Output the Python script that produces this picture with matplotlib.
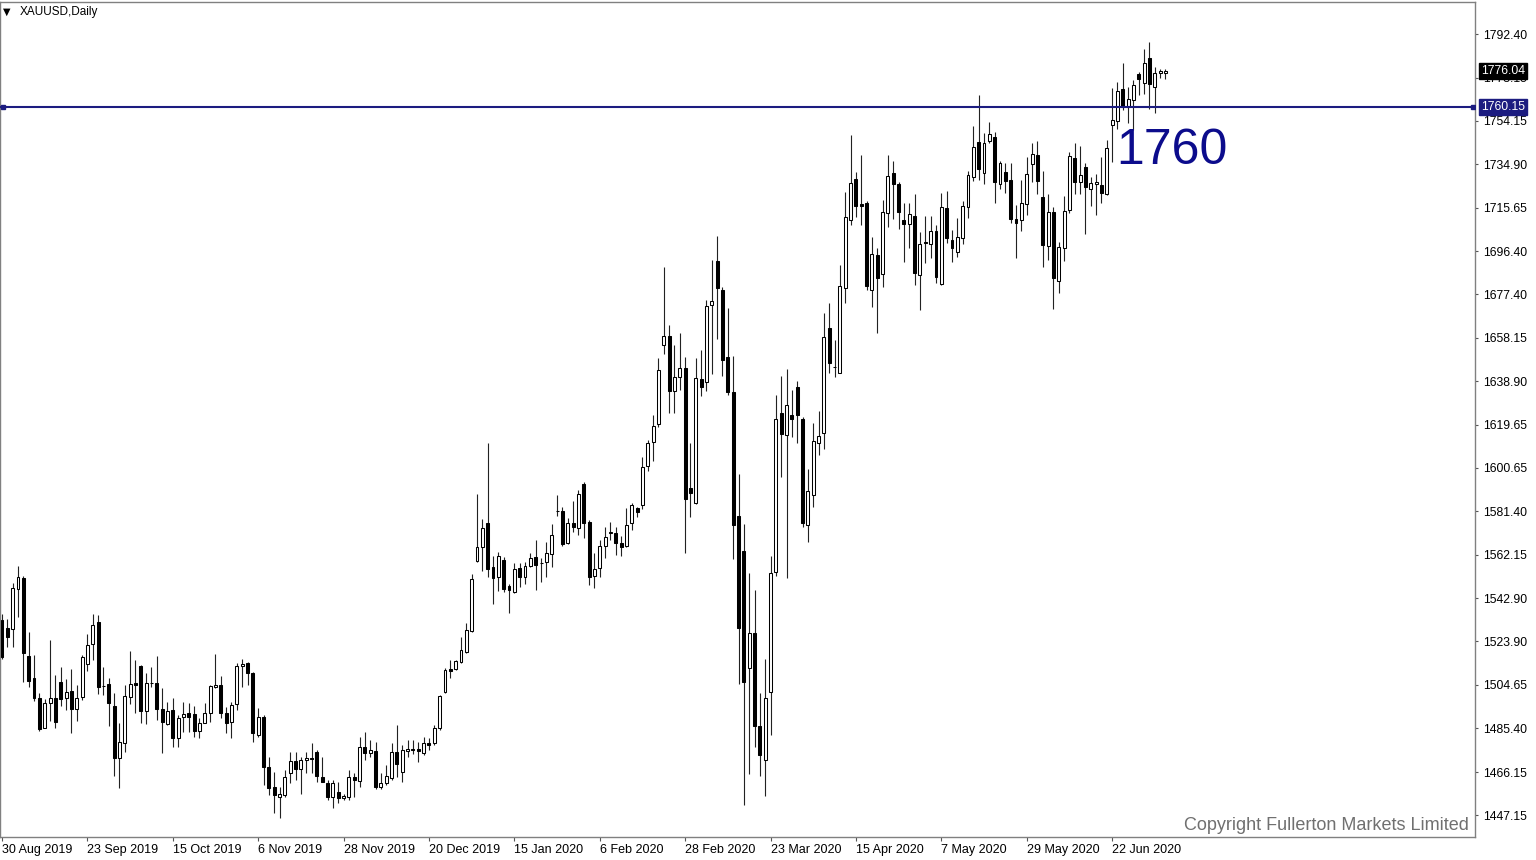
import matplotlib
matplotlib.use('Agg')
import matplotlib.pyplot as plt
import matplotlib.transforms as mtransforms
import numpy as np

plt.rcParams['font.family'] = ['Liberation Sans', 'DejaVu Sans']

# daily XAUUSD candles, 30 Aug 2019 .. early Jul 2020
opens = [
    1533.4, 1529.7, 1529.4, 1547.1, 1552.1, 1517.4, 1507.9, 1499.0, 1485.8, 1496.5,
    1498.7, 1505.9, 1498.7, 1502.0, 1494.0, 1499.5, 1513.8, 1522.6, 1532.3, 1504.3,
    1504.9, 1495.3, 1472.2, 1479.1, 1499.2, 1505.5, 1513.2, 1493.3, 1505.4, 1505.4,
    1493.9, 1487.2, 1493.6, 1481.0, 1490.6, 1492.4, 1491.8, 1484.4, 1488.0, 1492.1,
    1503.9, 1504.6, 1492.4, 1488.4, 1496.2, 1513.0, 1514.2, 1509.8, 1482.5, 1490.3,
    1468.5, 1459.7, 1455.3, 1456.0, 1465.6, 1471.2, 1467.3, 1471.5, 1472.2, 1475.1,
    1464.1, 1461.1, 1455.0, 1457.5, 1454.5, 1455.2, 1464.1, 1462.3, 1477.4, 1474.7,
    1475.6, 1459.4, 1461.4, 1463.4, 1475.1, 1466.3, 1475.6, 1476.2, 1476.2, 1474.7,
    1479.1, 1478.8, 1485.5, 1501.4, 1511.5, 1511.5, 1514.6, 1519.3, 1528.5, 1559.6,
    1565.5, 1576.4, 1556.9, 1552.2, 1559.9, 1548.4, 1545.9, 1556.2, 1552.5, 1557.2,
    1561.0, 1558.7, 1558.8, 1562.5, 1581.4, 1581.5, 1567.2, 1576.4, 1573.9, 1593.5,
    1576.8, 1552.8, 1556.2, 1566.1, 1571.9, 1572.0, 1567.5, 1566.1, 1576.1, 1582.7,
    1584.2, 1601.4, 1612.2, 1620.0, 1654.9, 1658.9, 1634.7, 1640.9, 1644.6, 1591.6,
    1585.1, 1640.0, 1638.4, 1672.7, 1691.9, 1679.3, 1649.8, 1634.1, 1579.5, 1563.8,
    1512.0, 1527.8, 1486.3, 1471.6, 1501.4, 1554.5, 1624.8, 1615.0, 1624.0, 1636.5,
    1622.0, 1575.4, 1588.6, 1611.5, 1616.2, 1662.3, 1645.1, 1642.7, 1680.0, 1710.2,
    1728.2, 1717.2, 1717.8, 1679.2, 1694.7, 1686.3, 1713.4, 1730.8, 1726.1, 1710.2,
    1708.4, 1711.9, 1685.9, 1700.6, 1699.6, 1705.5, 1681.9, 1715.3, 1701.3, 1696.2,
    1702.1, 1716.1, 1729.0, 1744.8, 1730.8, 1745.2, 1747.0, 1726.1, 1731.5, 1727.9,
    1710.5, 1710.2, 1717.2, 1734.9, 1738.9, 1720.2, 1698.7, 1713.9, 1683.4, 1697.6,
    1714.6, 1737.4, 1727.1, 1733.5, 1723.7, 1726.1, 1725.6, 1721.7, 1752.2, 1754.1,
    1767.9, 1760.0, 1763.2, 1774.7, 1770.6, 1781.6, 1769.1, 1775.0, 1775.3,
]
highs = [
    1536.0, 1533.8, 1549.6, 1557.2, 1552.8, 1527.9, 1517.9, 1501.2, 1498.4, 1524.5,
    1509.0, 1512.4, 1507.3, 1511.7, 1504.6, 1517.9, 1527.0, 1535.9, 1535.6, 1512.4,
    1507.9, 1500.9, 1487.7, 1504.6, 1519.7, 1515.7, 1513.5, 1509.8, 1512.4, 1517.4,
    1503.1, 1497.3, 1498.7, 1491.4, 1497.3, 1496.5, 1495.3, 1489.9, 1496.5, 1504.6,
    1518.3, 1508.6, 1495.0, 1497.3, 1514.2, 1516.0, 1514.9, 1510.2, 1494.3, 1491.4,
    1472.9, 1466.3, 1459.7, 1467.0, 1475.1, 1475.2, 1472.9, 1475.1, 1478.8, 1475.9,
    1472.9, 1462.6, 1462.6, 1461.9, 1456.4, 1467.0, 1465.6, 1481.8, 1484.0, 1480.3,
    1479.6, 1465.6, 1469.2, 1478.8, 1486.9, 1478.1, 1480.3, 1480.3, 1479.6, 1481.8,
    1481.0, 1486.9, 1500.2, 1512.0, 1515.7, 1515.7, 1525.7, 1531.9, 1553.7, 1588.9,
    1577.8, 1611.4, 1561.6, 1563.6, 1561.3, 1549.3, 1558.4, 1558.4, 1559.1, 1562.8,
    1568.7, 1560.6, 1568.0, 1575.8, 1588.6, 1583.1, 1578.3, 1586.1, 1590.8, 1594.5,
    1577.6, 1562.8, 1568.7, 1574.6, 1576.8, 1574.6, 1570.5, 1582.7, 1585.2, 1583.2,
    1605.3, 1612.9, 1624.0, 1649.0, 1689.5, 1663.8, 1654.9, 1660.4, 1649.5, 1611.5,
    1649.3, 1652.6, 1675.0, 1692.4, 1703.3, 1680.4, 1671.4, 1650.2, 1597.8, 1575.8,
    1554.0, 1546.8, 1501.0, 1516.1, 1561.5, 1633.0, 1641.2, 1644.4, 1635.1, 1638.8,
    1622.9, 1600.0, 1620.3, 1625.9, 1669.2, 1673.3, 1657.1, 1690.3, 1722.7, 1747.8,
    1731.6, 1739.0, 1718.7, 1702.8, 1697.7, 1719.0, 1739.0, 1736.4, 1727.1, 1717.5,
    1717.5, 1721.7, 1705.0, 1711.9, 1711.9, 1708.0, 1721.9, 1723.1, 1705.7, 1710.9,
    1718.7, 1732.0, 1751.7, 1765.4, 1748.5, 1753.6, 1749.2, 1736.4, 1735.5, 1735.5,
    1716.8, 1727.9, 1738.2, 1744.4, 1745.2, 1732.0, 1721.7, 1715.8, 1700.6, 1720.8,
    1740.4, 1744.4, 1742.9, 1735.5, 1729.0, 1730.5, 1737.9, 1745.5, 1768.4, 1771.3,
    1779.4, 1768.8, 1772.1, 1775.8, 1785.6, 1789.0, 1777.7, 1776.8, 1776.8,
]
lows = [
    1516.0, 1521.6, 1521.6, 1534.8, 1506.1, 1503.9, 1497.7, 1484.4, 1485.5, 1488.9,
    1485.8, 1495.5, 1493.6, 1483.3, 1488.9, 1498.0, 1510.8, 1515.7, 1500.6, 1500.2,
    1486.6, 1464.5, 1459.2, 1475.1, 1496.1, 1492.1, 1488.0, 1487.2, 1503.9, 1489.1,
    1474.4, 1486.9, 1477.4, 1477.1, 1484.0, 1484.0, 1481.5, 1481.0, 1487.7, 1488.4,
    1503.1, 1489.9, 1483.5, 1481.0, 1493.6, 1503.9, 1504.6, 1479.6, 1481.8, 1460.4,
    1456.0, 1447.9, 1445.7, 1455.3, 1461.1, 1462.6, 1456.4, 1465.6, 1465.6, 1461.9,
    1461.6, 1453.8, 1450.1, 1452.3, 1453.8, 1453.8, 1455.2, 1459.7, 1471.5, 1472.9,
    1458.5, 1458.5, 1460.4, 1462.6, 1464.1, 1461.9, 1472.9, 1474.1, 1470.7, 1473.7,
    1475.9, 1478.1, 1484.7, 1501.0, 1507.6, 1511.2, 1514.2, 1518.9, 1528.2, 1558.8,
    1555.1, 1552.5, 1540.4, 1546.3, 1545.9, 1536.3, 1545.4, 1548.1, 1549.3, 1556.6,
    1546.6, 1550.3, 1552.2, 1556.6, 1579.3, 1566.0, 1566.9, 1572.4, 1570.9, 1569.5,
    1548.8, 1547.4, 1552.5, 1560.6, 1568.7, 1562.1, 1561.6, 1565.8, 1573.1, 1579.0,
    1582.3, 1599.4, 1603.8, 1618.8, 1650.9, 1625.0, 1625.0, 1635.0, 1562.8, 1579.0,
    1584.8, 1632.2, 1634.6, 1642.3, 1657.5, 1641.2, 1633.0, 1560.5, 1505.0, 1451.5,
    1465.4, 1477.2, 1464.6, 1455.6, 1482.5, 1552.9, 1596.5, 1552.0, 1614.2, 1611.4,
    1574.3, 1568.0, 1583.2, 1606.3, 1608.8, 1642.4, 1640.9, 1642.4, 1673.6, 1708.0,
    1711.7, 1708.0, 1679.2, 1671.6, 1660.4, 1680.4, 1707.2, 1710.5, 1706.0, 1691.5,
    1697.6, 1681.4, 1670.4, 1691.0, 1693.2, 1682.2, 1681.4, 1699.9, 1691.7, 1693.7,
    1699.6, 1710.9, 1727.6, 1727.9, 1726.1, 1744.4, 1717.5, 1723.7, 1722.0, 1709.0,
    1693.2, 1705.5, 1712.4, 1727.1, 1721.7, 1689.2, 1692.5, 1670.7, 1677.8, 1692.2,
    1713.4, 1721.7, 1721.7, 1704.0, 1716.4, 1712.4, 1717.5, 1721.2, 1735.9, 1750.3,
    1758.8, 1753.2, 1750.0, 1765.4, 1765.9, 1759.1, 1757.6, 1772.8, 1772.4,
]
closes = [
    1517.1, 1526.0, 1547.4, 1552.4, 1518.9, 1506.5, 1498.7, 1485.2, 1496.7, 1499.0,
    1488.4, 1498.3, 1501.7, 1493.9, 1498.7, 1516.9, 1522.3, 1531.1, 1503.6, 1504.0,
    1496.8, 1472.5, 1479.3, 1499.9, 1505.1, 1504.6, 1493.3, 1505.7, 1505.6, 1493.9,
    1488.4, 1493.1, 1481.0, 1489.9, 1491.8, 1490.3, 1484.4, 1488.0, 1492.1, 1504.2,
    1504.6, 1492.4, 1488.0, 1495.8, 1513.0, 1513.9, 1509.8, 1483.5, 1490.6, 1468.5,
    1458.9, 1456.0, 1456.4, 1464.1, 1471.2, 1467.3, 1471.5, 1472.2, 1471.8, 1464.4,
    1461.9, 1455.0, 1461.4, 1454.5, 1455.5, 1464.1, 1462.6, 1477.4, 1474.4, 1475.9,
    1459.4, 1461.4, 1464.4, 1475.1, 1469.7, 1475.9, 1476.2, 1476.0, 1475.4, 1478.8,
    1478.1, 1485.5, 1499.7, 1511.2, 1510.9, 1515.2, 1520.1, 1528.9, 1551.5, 1565.5,
    1573.9, 1555.8, 1551.8, 1561.6, 1546.9, 1546.6, 1555.8, 1552.2, 1557.2, 1560.9,
    1557.7, 1558.4, 1562.8, 1570.9, 1581.7, 1566.8, 1576.1, 1574.3, 1588.9, 1576.1,
    1552.5, 1555.8, 1566.1, 1570.2, 1572.0, 1567.5, 1565.5, 1575.3, 1584.2, 1581.3,
    1601.1, 1611.5, 1619.1, 1643.9, 1658.9, 1634.7, 1640.6, 1644.6, 1587.0, 1589.3,
    1640.4, 1636.3, 1672.2, 1674.4, 1679.9, 1648.5, 1634.1, 1575.3, 1530.0, 1506.0,
    1527.8, 1486.6, 1473.6, 1498.9, 1554.0, 1622.4, 1615.8, 1628.6, 1622.4, 1623.9,
    1576.4, 1590.5, 1612.6, 1614.7, 1658.6, 1647.1, 1645.0, 1681.0, 1711.4, 1726.7,
    1716.4, 1716.4, 1681.0, 1695.2, 1684.4, 1713.9, 1729.6, 1726.1, 1713.9, 1708.2,
    1712.8, 1686.9, 1699.6, 1700.2, 1705.5, 1685.1, 1715.8, 1702.1, 1697.6, 1702.5,
    1716.4, 1730.1, 1742.3, 1732.6, 1744.4, 1748.2, 1727.1, 1735.5, 1727.6, 1710.5,
    1709.0, 1717.8, 1730.5, 1739.4, 1727.6, 1699.1, 1713.9, 1684.4, 1698.1, 1714.3,
    1738.5, 1727.1, 1730.1, 1724.6, 1726.4, 1727.1, 1722.2, 1741.9, 1754.4, 1767.3,
    1760.0, 1763.5, 1769.9, 1772.4, 1779.7, 1770.3, 1775.0, 1776.2, 1776.04,
]

date_labels = ['30 Aug 2019', '23 Sep 2019', '15 Oct 2019', '6 Nov 2019', '28 Nov 2019',
               '20 Dec 2019', '15 Jan 2020', '6 Feb 2020', '28 Feb 2020', '23 Mar 2020',
               '15 Apr 2020', '7 May 2020', '29 May 2020', '22 Jun 2020']
bars_per_label = 16

price_ticks = [1792.40, 1773.15, 1754.15, 1734.90, 1715.65, 1696.40, 1677.40, 1658.15,
               1638.90, 1619.65, 1600.65, 1581.40, 1562.15, 1542.90, 1523.90, 1504.65,
               1485.40, 1466.15, 1447.15]

level = 1760.15
symbol = 'XAUUSD,Daily'
copyright_text = 'Copyright Fullerton Markets Limited'

W, H = 1536, 860
fig = plt.figure(figsize=(W / 100, H / 100), dpi=100)
ax = fig.add_axes([0.0, 23 / H, 1475 / W, 835 / H])

o = np.array(opens)
h = np.array(highs)
l = np.array(lows)
c = np.array(closes)
x = np.arange(len(o))
up = c >= o

ax.vlines(x, l, h, color='#222222', lw=0.8, zorder=2)
body_lo = np.minimum(o, c)
body_h = np.maximum(np.abs(c - o), 0.25)
ax.bar(x[up], body_h[up], bottom=body_lo[up], width=0.55, color='white',
       edgecolor='black', lw=0.75, zorder=3)
ax.bar(x[~up], body_h[~up], bottom=body_lo[~up], width=0.55, color='black',
       edgecolor='black', lw=0.75, zorder=3)

ax.set_xlim(-0.375, 276.0)
ax.set_ylim(1437.43, 1806.55)

# horizontal support line
navy = '#1c1c80'
ax.axhline(level, color=navy, lw=1.5, zorder=4)
ax.plot([0.002, 0.9985], [level, level], transform=ax.get_yaxis_transform(),
        ls='none', marker='s', ms=3, color=navy, zorder=5)
ax.text(208.8, 1734.9, '%d' % int(level), fontsize=36, color='#0c0c8c',
        ha='left', va='baseline', zorder=6)

# axes / ticks
ax.set_xticks(np.arange(len(date_labels)) * bars_per_label)
ax.set_xticklabels(date_labels, ha='left')
ax.yaxis.tick_right()
ax.set_yticks(price_ticks)
ax.set_yticklabels(['%.2f' % p for p in price_ticks])
ax.tick_params(axis='x', direction='out', length=3, width=0.8, pad=2,
               labelsize=9, color='#555555')
ax.tick_params(axis='y', direction='out', length=2, width=0.8, pad=3.5,
               labelsize=8.8, color='#555555')
for s in ax.spines.values():
    s.set_color('#808080')
    s.set_linewidth(1.0)

# price boxes on the right scale
trans = mtransforms.blended_transform_factory(ax.transAxes, ax.transData)
ax.text(1.0042, c[-1], '%.2f' % c[-1], transform=trans, ha='left', va='center',
        fontsize=8.8, color='white', clip_on=False, zorder=10,
        bbox=dict(boxstyle='square,pad=0.18', fc='black', ec='black'))
ax.text(1.0042, level, '%.2f' % level, transform=trans, ha='left', va='center',
        fontsize=8.8, color='white', clip_on=False, zorder=10,
        bbox=dict(boxstyle='square,pad=0.18', fc=navy, ec=navy))

# header and watermark
fig.text(3 / W, 1 - 12 / H, '\u25bc', fontsize=7, family='DejaVu Sans',
         ha='left', va='center')
fig.text(20 / W, 1 - 12 / H, symbol, fontsize=8.5, ha='left', va='center')
fig.text(1469 / W, 1 - 830 / H, copyright_text, fontsize=13, color='#707070',
         ha='right', va='baseline')

plt.savefig('out.png', dpi=100, facecolor='white')
